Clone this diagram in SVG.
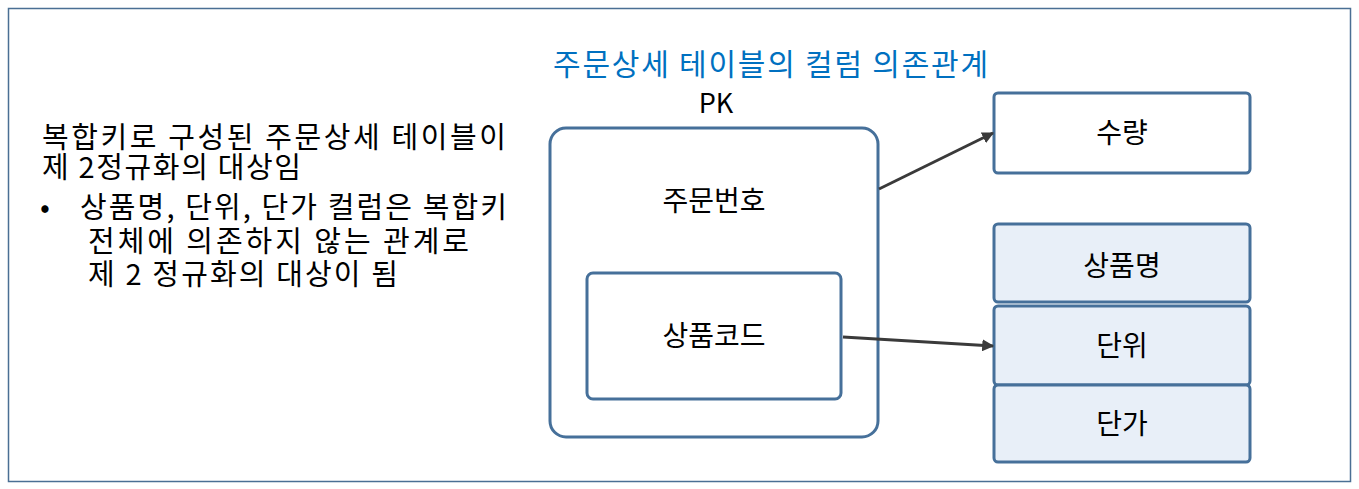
<svg xmlns="http://www.w3.org/2000/svg" width="1359" height="489" viewBox="0 0 1359 489">
<defs>
<style>
text{font-family:"Noto Sans CJK KR","Noto Sans",sans-serif;fill:#000}
.box{stroke:#46709a;stroke-width:3}
.lbl{font-size:28px;text-anchor:middle}
.side{font-size:29px}
.conn{stroke:#3a3a3a;stroke-width:3;fill:none;marker-end:url(#ah)}
</style>
<marker id="ah" viewBox="0 0 10 10" refX="9" refY="5" markerWidth="4" markerHeight="4" orient="auto" markerUnits="strokeWidth">
<path d="M0,0 L10,5 L0,10 z" fill="#3a3a3a"/>
</marker>
</defs>
<rect x="0" y="0" width="1359" height="489" fill="#fff"/>
<rect x="8.5" y="8.5" width="1342" height="473" fill="none" stroke="#4a6f94" stroke-width="1.5"/>
<g id="description">
<text class="side" x="42" y="148" textLength="464" lengthAdjust="spacing">복합키로 구성된 주문상세 테이블이</text>
<text class="side" x="42" y="178" textLength="259" lengthAdjust="spacing">제 2정규화의 대상임</text>
<text class="side" x="40" y="218">•</text>
<text class="side" x="80" y="218" textLength="427" lengthAdjust="spacing">상품명, 단위, 단가 컬럼은 복합키</text>
<text class="side" x="88" y="252" textLength="381" lengthAdjust="spacing">전체에 의존하지 않는 관계로</text>
<text class="side" x="88" y="285" textLength="310" lengthAdjust="spacing">제 2 정규화의 대상이 됨</text>
</g>
<g id="title">
<text x="553" y="75" font-size="30" textLength="435" lengthAdjust="spacing" style="fill:#0070c0">주문상세 테이블의 컬럼 의존관계</text>
</g>
<g id="pk">
<text x="716" y="113" font-size="27" text-anchor="middle">PK</text>
<rect class="box" x="550" y="128" width="328" height="309" rx="16" fill="#fff"/>
<text class="lbl" x="714" y="211">주문번호</text>
</g>
<g id="product-code">
<rect class="box" x="587" y="273" width="254" height="126" rx="6" fill="#fff"/>
<text class="lbl" x="714" y="346">상품코드</text>
</g>
<g id="quantity">
<rect class="box" x="994" y="93" width="256" height="80" rx="4" fill="#fff"/>
<text class="lbl" x="1122" y="143">수량</text>
</g>
<g id="product-name">
<rect class="box" x="994" y="224" width="256" height="78" rx="4" fill="#e8eff8"/>
<text class="lbl" x="1122" y="276">상품명</text>
</g>
<g id="unit">
<rect class="box" x="994" y="306" width="256" height="79" rx="4" fill="#e8eff8"/>
<text class="lbl" x="1122" y="356">단위</text>
</g>
<g id="price">
<rect class="box" x="994" y="385" width="256" height="77" rx="4" fill="#e8eff8"/>
<text class="lbl" x="1122" y="434">단가</text>
</g>
<g id="connectors">
<line class="conn" x1="879" y1="189" x2="993" y2="133"/>
<line class="conn" x1="843" y1="337" x2="993" y2="346"/>
</g>
</svg>
